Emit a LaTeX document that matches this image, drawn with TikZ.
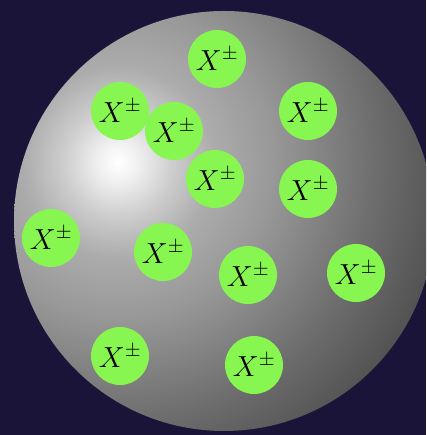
\RequirePackage{fix-cm}
\documentclass[tikz,border=0pt]{standalone}
\usetikzlibrary{shadings}
\definecolor{bgnavy}{RGB}{26,20,56}
\definecolor{partgreen}{RGB}{136,246,80}
\definecolor{sA}{RGB}{240,240,240}
\definecolor{sB}{RGB}{205,205,205}
\definecolor{sC}{RGB}{172,172,172}
\definecolor{sD}{RGB}{152,152,152}
\definecolor{sE}{RGB}{108,108,108}
\definecolor{sF}{RGB}{82,82,82}
\definecolor{sG}{RGB}{60,60,60}
\pgfdeclareradialshading{sphereshade}{\pgfpoint{0bp}{0bp}}{%
  color(0bp)=(white); color(1.5bp)=(sA); color(4bp)=(sB); color(7bp)=(sC);
  color(11.4bp)=(sD); color(19.2bp)=(sE); color(24.4bp)=(sF); color(50bp)=(sG)}
\tikzset{
  particle/.style={circle, fill=partgreen, minimum size=58pt, inner sep=0pt,
    text=black, font=\fontsize{29}{32}\selectfont}
}
\begin{document}
\begin{tikzpicture}[x=1pt,y=1pt]
\useasboundingbox (0,0) rectangle (426,435);
\clip (0,0) rectangle (426,435);
\fill[bgnavy] (0,0) rectangle (426,435);
\begin{scope}
  \clip (224,214) circle (210);
  \shade[shading=sphereshade] (-222,-67) rectangle (458,613);
\end{scope}
\node[particle] (p1)  at (217,376) {$X^{\pm}$};
\node[particle] (p2)  at (120,324) {$X^{\pm}$};
\node[particle] (p3)  at (174,304) {$X^{\pm}$};
\node[particle] (p4)  at (308,324) {$X^{\pm}$};
\node[particle] (p5)  at (215,256) {$X^{\pm}$};
\node[particle] (p6)  at (308,246) {$X^{\pm}$};
\node[particle] (p7)  at (51,197)  {$X^{\pm}$};
\node[particle] (p8)  at (163,183) {$X^{\pm}$};
\node[particle] (p9)  at (248,160) {$X^{\pm}$};
\node[particle] (p10) at (356,162) {$X^{\pm}$};
\node[particle] (p11) at (120,79)  {$X^{\pm}$};
\node[particle] (p12) at (254,70)  {$X^{\pm}$};
\end{tikzpicture}
\end{document}
